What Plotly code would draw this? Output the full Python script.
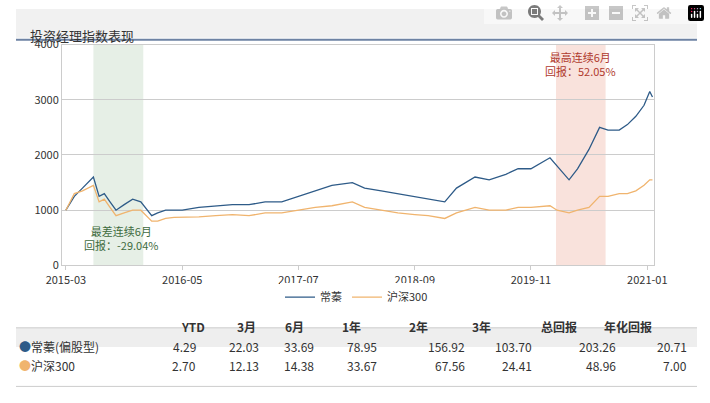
import plotly.graph_objects as go

dates = ["2015-03-01","2015-04-01","2015-05-01","2015-06-10","2015-07-01","2015-07-20","2015-08-10","2015-09-01","2015-10-01","2015-11-01","2015-12-01","2016-01-10","2016-02-01","2016-03-01","2016-04-01","2016-05-01","2016-07-01","2016-09-01","2016-11-01","2017-01-01","2017-03-01","2017-05-01","2017-07-01","2017-09-01","2017-11-01","2018-01-15","2018-03-01","2018-05-01","2018-07-01","2018-09-01","2018-10-20","2018-12-20","2019-02-01","2019-04-10","2019-06-01","2019-08-01","2019-09-15","2019-11-01","2020-01-10","2020-02-05","2020-03-20","2020-04-20","2020-06-01","2020-07-10","2020-08-10","2020-09-20","2020-10-20","2020-11-20","2020-12-20","2021-01-10","2021-01-20"]
fund = [1000,1250,1400,1600,1250,1300,1150,1000,1100,1200,1150,900,950,1000,1000,1000,1050,1080,1100,1100,1150,1150,1250,1350,1450,1500,1400,1350,1300,1250,1200,1150,1400,1600,1550,1650,1750,1750,1950,1800,1550,1750,2100,2500,2450,2450,2550,2700,2900,3150,3050]
csi = [1000,1300,1350,1450,1150,1200,1050,900,950,1000,1000,800,800,850,870,870,880,900,920,900,950,950,1000,1050,1080,1150,1050,1000,950,920,900,850,950,1050,1000,1000,1050,1050,1080,1000,950,1000,1050,1250,1250,1300,1300,1350,1450,1550,1550]
xticks = ["2015-03-01","2016-05-01","2017-07-01","2018-09-01","2019-11-01","2021-01-01"]
xlabels = ["2015-03","2016-05","2017-07","2018-09","2019-11","2021-01"]
headers = ["YTD","3月","6月","1年","2年","3年","总回报","年化回报"]
rows = ["常蓁(偏股型)","沪深300"]
table = [["4.29","22.03","33.69","78.95","156.92","103.70","203.26","20.71"],
         ["2.70","12.13","14.38","33.67","67.56","24.41","48.96","7.00"]]
BLUE, ORANGE = "#2e5b88", "#f0b46e"
W, H = 710, 403
px = lambda x: x / W
py = lambda y: 1 - y / H

fig = go.Figure()
fig.add_trace(go.Scatter(x=dates, y=fund, name="常蓁", mode="lines", line=dict(color=BLUE, width=1.3)))
fig.add_trace(go.Scatter(x=dates, y=csi, name="沪深300", mode="lines", line=dict(color=ORANGE, width=1.3)))

shapes = [
    dict(type="rect", xref="x", yref="paper", x0="2015-06-10", x1="2015-12-10", y0=py(267), y1=py(37), fillcolor="#e6efe6", line_width=0, layer="below"),
    dict(type="rect", xref="x", yref="paper", x0="2020-02-01", x1="2020-08-01", y0=py(267), y1=py(37), fillcolor="#f9e2dc", line_width=0, layer="below"),
    dict(type="rect", xref="paper", yref="paper", x0=0, x1=1, y0=py(30), y1=1, fillcolor="#f1f1f1", line_width=0, layer="below"),
    dict(type="line", xref="paper", yref="paper", x0=0, x1=1, y0=py(32), y1=py(32), line=dict(color="#6d82a3", width=2)),
    dict(type="rect", xref="paper", yref="paper", x0=0, x1=1, y0=py(352), y1=py(332), fillcolor="#eeeeee", line_width=0, layer="below"),
    dict(type="line", xref="paper", yref="paper", x0=0, x1=1, y0=py(332), y1=py(332), line=dict(color="#cccccc", width=1)),
    dict(type="line", xref="paper", yref="paper", x0=0, x1=1, y0=py(393), y1=py(393), line=dict(color="#cccccc", width=1)),
]
ann = [
    dict(text="投资经理指数表现", x=px(12), y=py(16), xref="paper", yref="paper", xanchor="left", showarrow=False, font=dict(size=13, color="#333")),
    dict(text="最差连续6月<br>回报：-29.04%", x="2015-09-20", y=500, xref="x", yref="y", showarrow=False, font=dict(size=11, color="#3e6b3e")),
    dict(text="最高连续6月<br>回报：52.05%", x="2020-05-01", y=3640, xref="x", yref="y", showarrow=False, font=dict(size=11, color="#b03a2e")),
]
hx = [170, 228, 290, 350, 420, 497, 587, 665]
rx = [190, 255, 313, 378, 470, 540, 628, 702]
for h, x in zip(headers, hx):
    ann.append(dict(text="<b>" + h + "</b>", x=px(x), y=py(342), xref="paper", yref="paper", showarrow=False, font=dict(size=12, color="#333")))
for i, (name, vals) in enumerate(zip(rows, table)):
    yy = py(362 + 20 * i)
    col = BLUE if i == 0 else ORANGE
    ann.append(dict(text='<span style="color:%s">●</span>%s' % (col, name), x=px(1), y=yy, xref="paper", yref="paper", xanchor="left", showarrow=False, font=dict(size=12, color="#333")))
    for v, x in zip(vals, rx):
        ann.append(dict(text=v, x=px(x), y=yy, xref="paper", yref="paper", xanchor="right", showarrow=False, font=dict(size=12, color="#333")))

fig.update_layout(
    width=W, height=H, margin=dict(l=0, r=0, t=0, b=0), plot_bgcolor="white", paper_bgcolor="white",
    font=dict(family="Noto Sans CJK SC, sans-serif", size=11, color="#333"),
    shapes=shapes, annotations=ann,
    legend=dict(orientation="h", x=0.5, xanchor="center", y=py(300), yanchor="middle", font=dict(size=11)),
    xaxis=dict(domain=[px(48), px(665)], range=["2015-02-15", "2021-01-25"], tickvals=xticks, ticktext=xlabels,
               showgrid=False, showline=True, linecolor="#ccc", mirror=True, ticks="outside", tickcolor="#ccc", ticklen=4),
    yaxis=dict(domain=[py(267), py(37)], range=[0, 4000], dtick=1000, gridcolor="#ccc", showline=True, linecolor="#ccc", mirror=True, zeroline=False),
)
fig.write_html("out.html")
with open("out.html", encoding="utf-8") as f:
    html = f.read()
html = html.replace("<body>", '<body style="margin:0;overflow:hidden">', 1)
with open("out.html", "w", encoding="utf-8") as f:
    f.write(html)
